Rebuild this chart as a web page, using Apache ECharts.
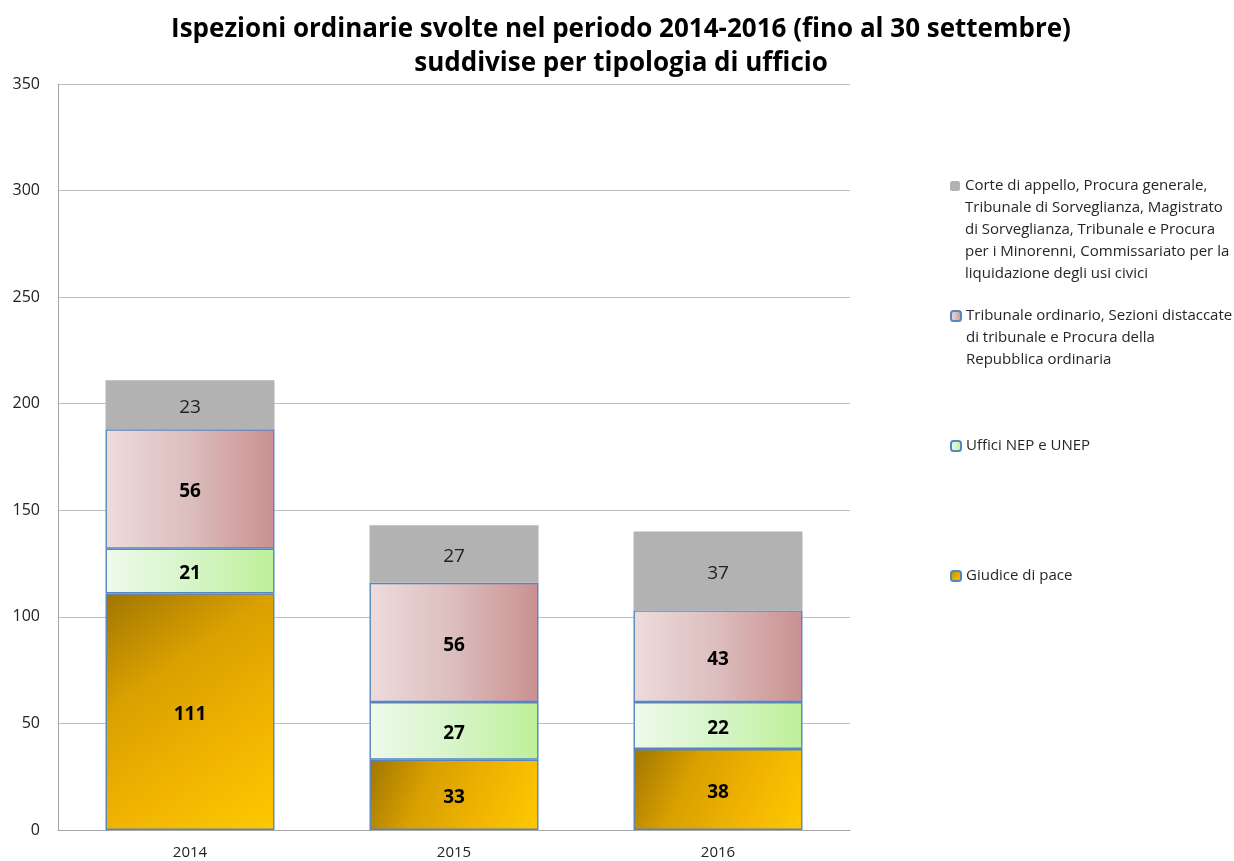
<!DOCTYPE html>
<html><head><meta charset="utf-8">
<script src="https://cdn.jsdelivr.net/npm/echarts@6/dist/echarts.min.js"></script>
<style>html,body{margin:0;padding:0;background:#fff}#c{width:1234px;height:861px}</style>
</head><body><div id="c"></div>
<script>
const categories = ['2014', '2015', '2016'];
const giudice = [111, 33, 38];
const uffici = [21, 27, 22];
const tribunale = [56, 56, 43];
const corte = [23, 27, 37];
const seriesNames = [
  'Giudice di pace',
  'Uffici NEP e UNEP',
  'Tribunale ordinario, Sezioni distaccate\ndi tribunale e Procura della\nRepubblica ordinaria',
  'Corte di appello, Procura generale,\nTribunale di Sorveglianza, Magistrato\ndi Sorveglianza, Tribunale e Procura\nper i Minorenni, Commissariato per la\nliquidazione degli usi civici'
];
const titleLines = ['Ispezioni ordinarie svolte nel periodo 2014-2016 (fino al 30 settembre)', 'suddivise per tipologia di ufficio'];

const FONT = 'Open Sans';
const chart = echarts.init(document.getElementById('c'));
const grad = (x2, y2, stops) => new echarts.graphic.LinearGradient(0, 0, x2, y2, stops.map((c, i) => ({offset: i / (stops.length - 1), color: c})));
const border = {borderColor: '#5585C2', borderWidth: 1.4};
const boldLabel = {show: true, position: 'inside', offset: [0, 3], color: '#000', fontFamily: FONT, fontWeight: 'bold', fontSize: 19};

function legendFor(name, top) {
  const lines = name.split('\n');
  const n = lines.length;
  const padded = [];
  for (let i = 0; i < n - 1; i++) padded.push('{t|\u200b}');
  lines.forEach(l => padded.push('{t|' + l + '}'));
  return {
    data: [name], orient: 'vertical', left: 950, top: top, padding: 0,
    itemWidth: 10, itemHeight: 10, itemGap: 0, selectedMode: false,
    textStyle: {fontFamily: FONT, fontSize: 15, color: '#262626', lineHeight: 22,
      rich: {t: {fontFamily: FONT, fontSize: 15, color: '#262626', lineHeight: 22, align: 'left'}}},
    formatter: () => padded.join('\n')
  };
}

chart.setOption({
  animation: false,
  title: {
    text: titleLines.join('\n'), left: 616, top: 8, textAlign: 'center',
    textStyle: {fontFamily: FONT, fontWeight: 'bold', fontSize: 26, lineHeight: 34, color: '#000'}
  },
  legend: [
    legendFor(seriesNames[3], 186 - 99),
    legendFor(seriesNames[2], 316 - 55),
    legendFor(seriesNames[1], 446 - 11),
    legendFor(seriesNames[0], 576 - 11)
  ],
  grid: {left: 58, right: 384, top: 84, bottom: 31},
  xAxis: {
    type: 'category', data: categories,
    axisLine: {lineStyle: {color: '#A6A6A6'}}, axisTick: {show: false},
    axisLabel: {fontFamily: FONT, fontSize: 15, color: '#222', margin: 15}
  },
  yAxis: {
    type: 'value', min: 0, max: 350, interval: 50,
    axisLine: {show: true, lineStyle: {color: '#A6A6A6'}},
    axisLabel: {fontFamily: FONT, fontSize: 16, color: '#222', margin: 18},
    splitLine: {lineStyle: {color: '#BFBFBF'}}
  },
  series: [
    {name: seriesNames[0], type: 'bar', stack: 's', data: giudice, barWidth: '64%',
      itemStyle: Object.assign({color: grad(1, 1, ['#A07600', '#D9A000', '#F0B400', '#FFC800'])}, border),
      label: boldLabel},
    {name: seriesNames[1], type: 'bar', stack: 's', data: uffici,
      itemStyle: Object.assign({color: grad(1, 0, ['#EEFAEA', '#D6F5C8', '#BEF09A'])}, border),
      label: boldLabel},
    {name: seriesNames[2], type: 'bar', stack: 's', data: tribunale,
      itemStyle: Object.assign({color: grad(1, 0, ['#EEDCDC', '#DCBDBD', '#CA9090'])}, border),
      label: boldLabel},
    {name: seriesNames[3], type: 'bar', stack: 's', data: corte,
      itemStyle: {color: '#B2B2B2'},
      label: {show: true, position: 'inside', offset: [0, 3], color: '#222', fontFamily: FONT, fontSize: 19}}
  ]
});
</script></body></html>
